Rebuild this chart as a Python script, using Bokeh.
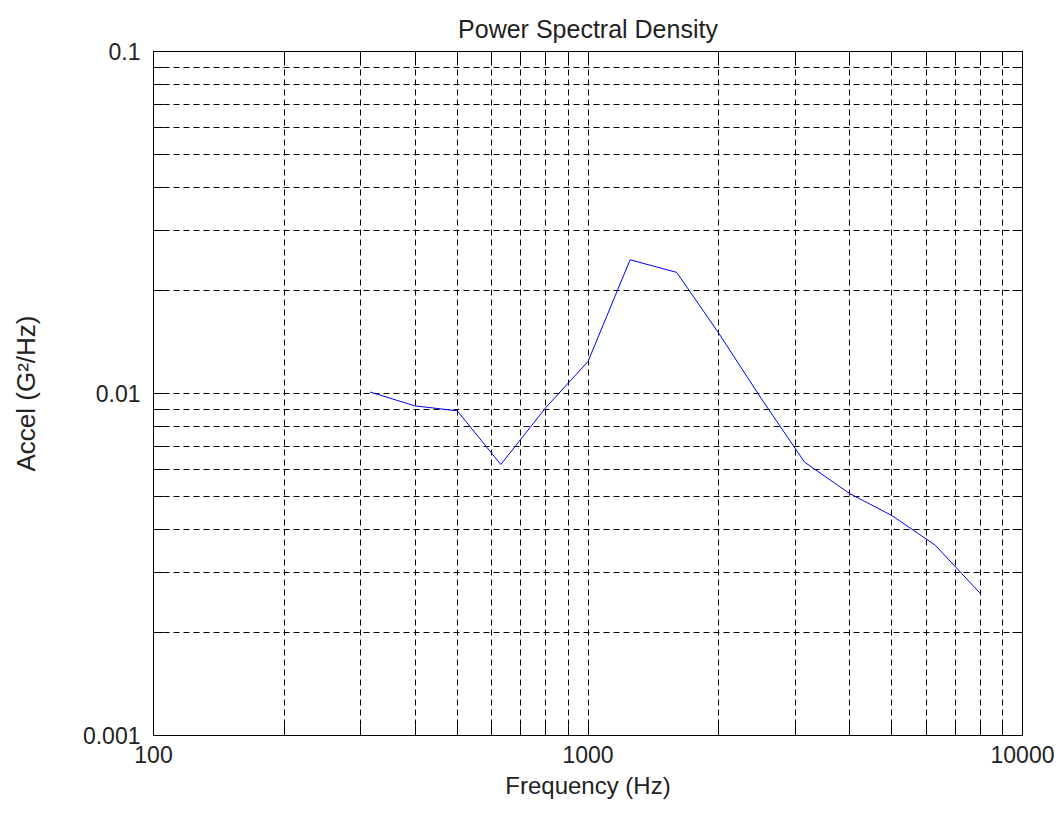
from bokeh.plotting import figure
from bokeh.models import LogAxis, FixedTicker, CustomJSTickFormatter
from bokeh.embed import file_html
from bokeh.resources import INLINE

# Data (1/3-octave band centres and PSD values)
frequency_hz = [315, 400, 500, 630, 800, 1000, 1250, 1600, 2000, 2500, 3150, 4000, 5000, 6300, 8000]
accel_psd = [0.0101, 0.0092, 0.0089, 0.0062, 0.0091, 0.0124, 0.0246, 0.0226, 0.0150,
             0.0097, 0.0063, 0.0051, 0.0044, 0.0036, 0.0026]

x_major = [100, 1000, 10000]
y_major = [0.001, 0.01, 0.1]
x_minor = [m * d for d in [100, 1000] for m in range(2, 10)]
y_minor = [m * d for d in [0.001, 0.01] for m in range(2, 10)]

FONT = "Liberation Sans"
TXT = "#222222"
FS = "23px"

p = figure(width=1060, height=814, x_axis_type="log", y_axis_type="log",
           x_range=(100, 10000), y_range=(0.001, 0.1),
           output_backend="svg", toolbar_location=None,
           min_border_left=153, min_border_right=38, min_border_top=51, min_border_bottom=79,
           background_fill_color="white", border_fill_color="white")

p.title.text = "Power Spectral Density"
p.title.align = "center"
p.title.text_font = FONT
p.title.text_font_size = "25px"
p.title.text_font_style = "normal"
p.title.text_color = TXT
p.title.standoff = 18

p.outline_line_color = "black"
p.outline_line_width = 1
p.outline_line_alpha = 1

xt = FixedTicker(ticks=x_major, minor_ticks=x_minor)
yt = FixedTicker(ticks=y_major, minor_ticks=y_minor)
fmt = CustomJSTickFormatter(code="return tick.toString();")
blank = CustomJSTickFormatter(code="return '';")

def style_axis(ax, labels=True):
    ax.axis_line_color = None
    ax.major_tick_in = 10
    ax.major_tick_out = 0
    ax.minor_tick_in = 10
    ax.minor_tick_out = 0
    ax.major_tick_line_color = "black"
    ax.minor_tick_line_color = "black"
    ax.major_label_text_font = FONT
    ax.major_label_text_font_size = FS
    ax.major_label_text_color = TXT
    ax.axis_label_text_font = FONT
    ax.axis_label_text_font_size = "24px"
    ax.axis_label_text_font_style = "normal"
    ax.axis_label_text_color = TXT
    if not labels:
        ax.major_label_standoff = 0
        ax.major_label_text_font_size = "1px"

xa = p.xaxis[0]
xa.ticker = xt
xa.formatter = fmt
xa.axis_label = "Frequency (Hz)"
style_axis(xa)
xa.major_label_standoff = 10
xa.axis_label_standoff = 6

ya = p.yaxis[0]
ya.ticker = yt
ya.formatter = fmt
ya.axis_label = "Accel (G²/Hz)"
style_axis(ya)
ya.axis_label_text_font_size = "26px"
ya.major_label_standoff = 13
ya.axis_label_standoff = 39

top = LogAxis(ticker=xt, formatter=blank)
style_axis(top, labels=False)
p.add_layout(top, "above")
right = LogAxis(ticker=yt, formatter=blank)
style_axis(right, labels=False)
p.add_layout(right, "right")

for g, t in ((p.xgrid[0], xt), (p.ygrid[0], yt)):
    g.ticker = t
    g.grid_line_color = "black"
    g.grid_line_dash = "6 4"
    g.grid_line_width = 1
    g.minor_grid_line_color = "black"
    g.minor_grid_line_dash = "6 4"
    g.minor_grid_line_width = 1

p.line(frequency_hz, accel_psd, line_color="#0000ff", line_width=1)

open("out.html", "w").write(file_html(p, INLINE))
